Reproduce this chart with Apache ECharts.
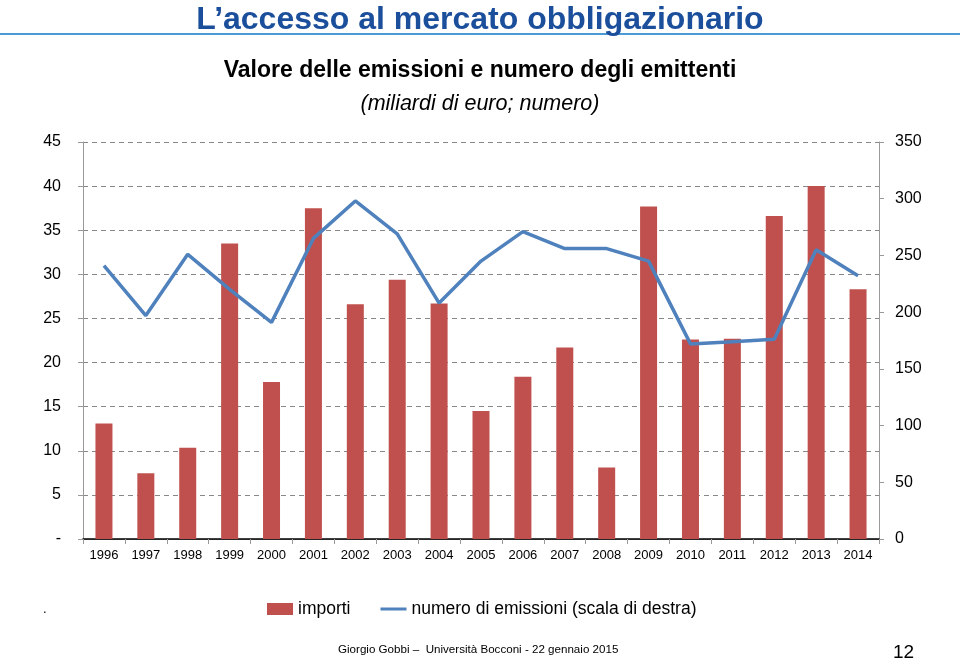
<!DOCTYPE html>
<html>
<head>
<meta charset="utf-8">
<script src="https://cdn.jsdelivr.net/npm/echarts@6/dist/echarts.min.js"></script>
<style>
html,body{margin:0;padding:0;background:#fff;}
#c{width:960px;height:661px;}
</style>
</head>
<body>
<div id="c"></div>
<script>
const years = ['1996','1997','1998','1999','2000','2001','2002','2003','2004','2005','2006','2007','2008','2009','2010','2011','2012','2013','2014'];
const importi = [13.1, 7.45, 10.35, 33.5, 17.8, 37.5, 26.6, 29.4, 26.7, 14.5, 18.4, 21.7, 8.1, 37.7, 22.6, 22.7, 36.6, 40.0, 28.3];
const numeroEmissioni = [241, 197, 251, 220, 191, 265, 298, 269, 208, 245, 271, 256, 256, 245, 172, 174, 176, 255, 232];
const leftTicks = {0:'-'};

const FONT = '"Liberation Sans Narrow", "Liberation Sans", Arial, sans-serif';
const chart = echarts.init(document.getElementById('c'));
chart.setOption({
  animation: false,
  textStyle: {fontFamily: FONT},
  title: [
    {text: 'L\u2019accesso al mercato obbligazionario', left: 'center', top: -1,
     textStyle: {color: '#1B4F9C', fontSize: 32, fontWeight: 'bold', fontFamily: FONT}},
    {text: 'Valore delle emissioni e numero degli emittenti', left: 'center', top: 54,
     textStyle: {color: '#000', fontSize: 23, fontWeight: 'bold', fontFamily: FONT}},
    {text: '(miliardi di euro; numero)', left: 'center', top: 88,
     textStyle: {color: '#000', fontSize: 21.5, fontStyle: 'italic', fontWeight: 'normal', fontFamily: FONT}}
  ],
  graphic: [
    {type: 'line', shape: {x1: 0, y1: 34, x2: 960, y2: 34}, style: {stroke: '#4A9AD6', lineWidth: 2}},
    {type: 'text', left: 338, top: 644, style: {text: 'Giorgio Gobbi \u2013  Universit\u00e0 Bocconi - 22 gennaio 2015', fill: '#000', font: '11.6px ' + FONT}},
    {type: 'text', left: 893, top: 643, style: {text: '12', fill: '#000', font: '19px ' + FONT}},
    {type: 'text', left: 43, top: 603, style: {text: '.', fill: '#000', font: '13px ' + FONT}}
  ],
  legend: {
    top: 595, left: 262, itemGap: 30, itemWidth: 26, itemHeight: 12,
    textStyle: {fontSize: 17.5, color: '#000', fontFamily: FONT},
    data: [
      {name: 'importi', icon: 'rect'},
      {name: 'numero di emissioni (scala di destra)', icon: 'path://M0,0 L26,0 L26,3 L0,3 Z'}
    ]
  },
  grid: {left: 83, right: 81, top: 142, bottom: 122},
  xAxis: [
    {type: 'category', data: years, position: 'bottom',
     axisLine: {lineStyle: {color: '#999', width: 1}},
     axisTick: {show: true, alignWithLabel: false, length: 5, lineStyle: {color: '#999'}},
     axisLabel: {color: '#000', fontSize: 13, margin: 10, interval: 0, fontFamily: FONT}},
    {type: 'category', data: years, position: 'top',
     axisLine: {lineStyle: {color: '#000', width: 1.5}},
     axisTick: {show: false}, axisLabel: {show: false}}
  ],
  yAxis: [
    {type: 'value', min: 0, max: 45, interval: 5, position: 'left',
     axisLine: {show: true, lineStyle: {color: '#999'}},
     axisTick: {show: true, length: 5, lineStyle: {color: '#999'}},
     axisLabel: {color: '#000', fontSize: 16, margin: 22, fontFamily: FONT,
       formatter: v => (leftTicks[v] !== undefined ? leftTicks[v] : String(v))},
     splitLine: {show: true, lineStyle: {color: '#888', type: [5, 4], width: 1}}},
    {type: 'value', min: 0, max: 350, interval: 50, position: 'right',
     axisLine: {show: true, lineStyle: {color: '#999'}},
     axisTick: {show: true, length: 5, lineStyle: {color: '#999'}},
     axisLabel: {color: '#000', fontSize: 16, margin: 16, fontFamily: FONT},
     splitLine: {show: false}}
  ],
  series: [
    {name: 'importi', type: 'bar', data: importi, yAxisIndex: 0, xAxisIndex: 0,
     barWidth: 17, itemStyle: {color: '#C0504D'}},
    {name: 'numero di emissioni (scala di destra)', type: 'line', data: numeroEmissioni, yAxisIndex: 1, xAxisIndex: 0,
     symbol: 'none', lineStyle: {color: '#4F81BD', width: 3.5}, itemStyle: {color: '#4F81BD'}}
  ]
});
</script>
</body>
</html>
